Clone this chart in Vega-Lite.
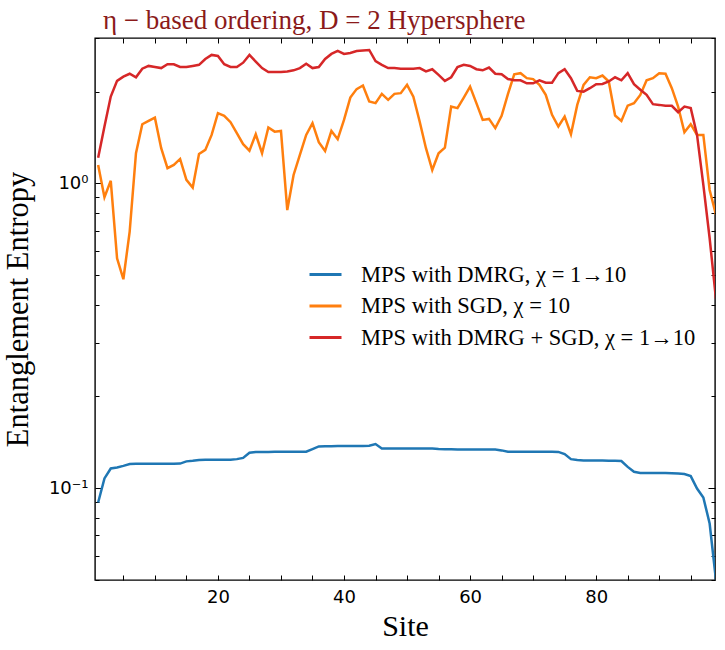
{
  "$schema": "https://vega.github.io/schema/vega-lite/v6.json",
  "description": "Entanglement entropy per site, eta-based ordering, D=2 hypersphere",
  "autosize": {"type": "none"},
  "padding": {"left": 95, "top": 38, "right": 10, "bottom": 70},
  "width": 620,
  "height": 542,
  "title": {
    "text": "η − based ordering,  D = 2 Hypersphere",
    "anchor": "start",
    "frame": "group",
    "dx": 8,
    "offset": 3,
    "font": "Liberation Serif",
    "fontSize": 27,
    "fontWeight": "normal",
    "color": "#8b1a1a"
  },
  "datasets": {
    "entropy": [
      {"site": 1, "method": "DMRG", "entropy": 0.0898},
      {"site": 2, "method": "DMRG", "entropy": 0.1077},
      {"site": 3, "method": "DMRG", "entropy": 0.1161},
      {"site": 4, "method": "DMRG", "entropy": 0.117},
      {"site": 5, "method": "DMRG", "entropy": 0.1184},
      {"site": 6, "method": "DMRG", "entropy": 0.12},
      {"site": 7, "method": "DMRG", "entropy": 0.1203},
      {"site": 8, "method": "DMRG", "entropy": 0.1203},
      {"site": 9, "method": "DMRG", "entropy": 0.1203},
      {"site": 10, "method": "DMRG", "entropy": 0.1203},
      {"site": 11, "method": "DMRG", "entropy": 0.1203},
      {"site": 12, "method": "DMRG", "entropy": 0.1204},
      {"site": 13, "method": "DMRG", "entropy": 0.1204},
      {"site": 14, "method": "DMRG", "entropy": 0.1205},
      {"site": 15, "method": "DMRG", "entropy": 0.1225},
      {"site": 16, "method": "DMRG", "entropy": 0.123},
      {"site": 17, "method": "DMRG", "entropy": 0.1237},
      {"site": 18, "method": "DMRG", "entropy": 0.124},
      {"site": 19, "method": "DMRG", "entropy": 0.124},
      {"site": 20, "method": "DMRG", "entropy": 0.124},
      {"site": 21, "method": "DMRG", "entropy": 0.124},
      {"site": 22, "method": "DMRG", "entropy": 0.1241},
      {"site": 23, "method": "DMRG", "entropy": 0.1246},
      {"site": 24, "method": "DMRG", "entropy": 0.1258},
      {"site": 25, "method": "DMRG", "entropy": 0.1307},
      {"site": 26, "method": "DMRG", "entropy": 0.1314},
      {"site": 27, "method": "DMRG", "entropy": 0.1316},
      {"site": 28, "method": "DMRG", "entropy": 0.1316},
      {"site": 29, "method": "DMRG", "entropy": 0.1317},
      {"site": 30, "method": "DMRG", "entropy": 0.1317},
      {"site": 31, "method": "DMRG", "entropy": 0.1317},
      {"site": 32, "method": "DMRG", "entropy": 0.1317},
      {"site": 33, "method": "DMRG", "entropy": 0.1317},
      {"site": 34, "method": "DMRG", "entropy": 0.1318},
      {"site": 35, "method": "DMRG", "entropy": 0.1344},
      {"site": 36, "method": "DMRG", "entropy": 0.1372},
      {"site": 37, "method": "DMRG", "entropy": 0.1374},
      {"site": 38, "method": "DMRG", "entropy": 0.1374},
      {"site": 39, "method": "DMRG", "entropy": 0.1375},
      {"site": 40, "method": "DMRG", "entropy": 0.1375},
      {"site": 41, "method": "DMRG", "entropy": 0.1376},
      {"site": 42, "method": "DMRG", "entropy": 0.1376},
      {"site": 43, "method": "DMRG", "entropy": 0.1377},
      {"site": 44, "method": "DMRG", "entropy": 0.1378},
      {"site": 45, "method": "DMRG", "entropy": 0.1396},
      {"site": 46, "method": "DMRG", "entropy": 0.1351},
      {"site": 47, "method": "DMRG", "entropy": 0.1351},
      {"site": 48, "method": "DMRG", "entropy": 0.1351},
      {"site": 49, "method": "DMRG", "entropy": 0.1351},
      {"site": 50, "method": "DMRG", "entropy": 0.1351},
      {"site": 51, "method": "DMRG", "entropy": 0.1351},
      {"site": 52, "method": "DMRG", "entropy": 0.1351},
      {"site": 53, "method": "DMRG", "entropy": 0.135},
      {"site": 54, "method": "DMRG", "entropy": 0.135},
      {"site": 55, "method": "DMRG", "entropy": 0.1344},
      {"site": 56, "method": "DMRG", "entropy": 0.1342},
      {"site": 57, "method": "DMRG", "entropy": 0.1342},
      {"site": 58, "method": "DMRG", "entropy": 0.1341},
      {"site": 59, "method": "DMRG", "entropy": 0.1341},
      {"site": 60, "method": "DMRG", "entropy": 0.1341},
      {"site": 61, "method": "DMRG", "entropy": 0.1341},
      {"site": 62, "method": "DMRG", "entropy": 0.134},
      {"site": 63, "method": "DMRG", "entropy": 0.134},
      {"site": 64, "method": "DMRG", "entropy": 0.1339},
      {"site": 65, "method": "DMRG", "entropy": 0.1331},
      {"site": 66, "method": "DMRG", "entropy": 0.1318},
      {"site": 67, "method": "DMRG", "entropy": 0.1317},
      {"site": 68, "method": "DMRG", "entropy": 0.1317},
      {"site": 69, "method": "DMRG", "entropy": 0.1317},
      {"site": 70, "method": "DMRG", "entropy": 0.1317},
      {"site": 71, "method": "DMRG", "entropy": 0.1317},
      {"site": 72, "method": "DMRG", "entropy": 0.1317},
      {"site": 73, "method": "DMRG", "entropy": 0.1317},
      {"site": 74, "method": "DMRG", "entropy": 0.1316},
      {"site": 75, "method": "DMRG", "entropy": 0.1294},
      {"site": 76, "method": "DMRG", "entropy": 0.1246},
      {"site": 77, "method": "DMRG", "entropy": 0.1237},
      {"site": 78, "method": "DMRG", "entropy": 0.1234},
      {"site": 79, "method": "DMRG", "entropy": 0.1233},
      {"site": 80, "method": "DMRG", "entropy": 0.1233},
      {"site": 81, "method": "DMRG", "entropy": 0.1232},
      {"site": 82, "method": "DMRG", "entropy": 0.1231},
      {"site": 83, "method": "DMRG", "entropy": 0.123},
      {"site": 84, "method": "DMRG", "entropy": 0.1228},
      {"site": 85, "method": "DMRG", "entropy": 0.1175},
      {"site": 86, "method": "DMRG", "entropy": 0.1132},
      {"site": 87, "method": "DMRG", "entropy": 0.1123},
      {"site": 88, "method": "DMRG", "entropy": 0.1123},
      {"site": 89, "method": "DMRG", "entropy": 0.1122},
      {"site": 90, "method": "DMRG", "entropy": 0.1122},
      {"site": 91, "method": "DMRG", "entropy": 0.1121},
      {"site": 92, "method": "DMRG", "entropy": 0.112},
      {"site": 93, "method": "DMRG", "entropy": 0.1118},
      {"site": 94, "method": "DMRG", "entropy": 0.1113},
      {"site": 95, "method": "DMRG", "entropy": 0.1096},
      {"site": 96, "method": "DMRG", "entropy": 0.0998},
      {"site": 97, "method": "DMRG", "entropy": 0.0933},
      {"site": 98, "method": "DMRG", "entropy": 0.0766},
      {"site": 99, "method": "DMRG", "entropy": 0.05},
      {"site": 1, "method": "SGD", "entropy": 1.15},
      {"site": 2, "method": "SGD", "entropy": 0.901},
      {"site": 3, "method": "SGD", "entropy": 1.02},
      {"site": 4, "method": "SGD", "entropy": 0.568},
      {"site": 5, "method": "SGD", "entropy": 0.485},
      {"site": 6, "method": "SGD", "entropy": 0.695},
      {"site": 7, "method": "SGD", "entropy": 1.256},
      {"site": 8, "method": "SGD", "entropy": 1.564},
      {"site": 9, "method": "SGD", "entropy": 1.604},
      {"site": 10, "method": "SGD", "entropy": 1.644},
      {"site": 11, "method": "SGD", "entropy": 1.305},
      {"site": 12, "method": "SGD", "entropy": 1.122},
      {"site": 13, "method": "SGD", "entropy": 1.15},
      {"site": 14, "method": "SGD", "entropy": 1.203},
      {"site": 15, "method": "SGD", "entropy": 1.027},
      {"site": 16, "method": "SGD", "entropy": 0.969},
      {"site": 17, "method": "SGD", "entropy": 1.25},
      {"site": 18, "method": "SGD", "entropy": 1.288},
      {"site": 19, "method": "SGD", "entropy": 1.443},
      {"site": 20, "method": "SGD", "entropy": 1.7},
      {"site": 21, "method": "SGD", "entropy": 1.666},
      {"site": 22, "method": "SGD", "entropy": 1.588},
      {"site": 23, "method": "SGD", "entropy": 1.461},
      {"site": 24, "method": "SGD", "entropy": 1.345},
      {"site": 25, "method": "SGD", "entropy": 1.281},
      {"site": 26, "method": "SGD", "entropy": 1.45},
      {"site": 27, "method": "SGD", "entropy": 1.256},
      {"site": 28, "method": "SGD", "entropy": 1.525},
      {"site": 29, "method": "SGD", "entropy": 1.479},
      {"site": 30, "method": "SGD", "entropy": 1.487},
      {"site": 31, "method": "SGD", "entropy": 0.818},
      {"site": 32, "method": "SGD", "entropy": 1.066},
      {"site": 33, "method": "SGD", "entropy": 1.24},
      {"site": 34, "method": "SGD", "entropy": 1.443},
      {"site": 35, "method": "SGD", "entropy": 1.576},
      {"site": 36, "method": "SGD", "entropy": 1.366},
      {"site": 37, "method": "SGD", "entropy": 1.278},
      {"site": 38, "method": "SGD", "entropy": 1.487},
      {"site": 39, "method": "SGD", "entropy": 1.397},
      {"site": 40, "method": "SGD", "entropy": 1.616},
      {"site": 41, "method": "SGD", "entropy": 1.913},
      {"site": 42, "method": "SGD", "entropy": 2.039},
      {"site": 43, "method": "SGD", "entropy": 2.095},
      {"site": 44, "method": "SGD", "entropy": 1.856},
      {"site": 45, "method": "SGD", "entropy": 1.834},
      {"site": 46, "method": "SGD", "entropy": 1.967},
      {"site": 47, "method": "SGD", "entropy": 1.88},
      {"site": 48, "method": "SGD", "entropy": 1.967},
      {"site": 49, "method": "SGD", "entropy": 1.978},
      {"site": 50, "method": "SGD", "entropy": 2.106},
      {"site": 51, "method": "SGD", "entropy": 1.927},
      {"site": 52, "method": "SGD", "entropy": 1.596},
      {"site": 53, "method": "SGD", "entropy": 1.305},
      {"site": 54, "method": "SGD", "entropy": 1.107},
      {"site": 55, "method": "SGD", "entropy": 1.256},
      {"site": 56, "method": "SGD", "entropy": 1.311},
      {"site": 57, "method": "SGD", "entropy": 1.787},
      {"site": 58, "method": "SGD", "entropy": 1.766},
      {"site": 59, "method": "SGD", "entropy": 1.913},
      {"site": 60, "method": "SGD", "entropy": 2.078},
      {"site": 61, "method": "SGD", "entropy": 1.834},
      {"site": 62, "method": "SGD", "entropy": 1.616},
      {"site": 63, "method": "SGD", "entropy": 1.628},
      {"site": 64, "method": "SGD", "entropy": 1.518},
      {"site": 65, "method": "SGD", "entropy": 1.666},
      {"site": 66, "method": "SGD", "entropy": 1.963},
      {"site": 67, "method": "SGD", "entropy": 2.28},
      {"site": 68, "method": "SGD", "entropy": 2.3},
      {"site": 69, "method": "SGD", "entropy": 2.215},
      {"site": 70, "method": "SGD", "entropy": 2.2},
      {"site": 71, "method": "SGD", "entropy": 2.106},
      {"site": 72, "method": "SGD", "entropy": 1.952},
      {"site": 73, "method": "SGD", "entropy": 1.679},
      {"site": 74, "method": "SGD", "entropy": 1.537},
      {"site": 75, "method": "SGD", "entropy": 1.657},
      {"site": 76, "method": "SGD", "entropy": 1.45},
      {"site": 77, "method": "SGD", "entropy": 1.81},
      {"site": 78, "method": "SGD", "entropy": 2.106},
      {"site": 79, "method": "SGD", "entropy": 2.23},
      {"site": 80, "method": "SGD", "entropy": 2.215},
      {"site": 81, "method": "SGD", "entropy": 2.26},
      {"site": 82, "method": "SGD", "entropy": 2.16},
      {"site": 83, "method": "SGD", "entropy": 1.67},
      {"site": 84, "method": "SGD", "entropy": 1.604},
      {"site": 85, "method": "SGD", "entropy": 1.8},
      {"site": 86, "method": "SGD", "entropy": 1.834},
      {"site": 87, "method": "SGD", "entropy": 1.952},
      {"site": 88, "method": "SGD", "entropy": 2.18},
      {"site": 89, "method": "SGD", "entropy": 2.215},
      {"site": 90, "method": "SGD", "entropy": 2.3},
      {"site": 91, "method": "SGD", "entropy": 2.29},
      {"site": 92, "method": "SGD", "entropy": 2.053},
      {"site": 93, "method": "SGD", "entropy": 1.787},
      {"site": 94, "method": "SGD", "entropy": 1.472},
      {"site": 95, "method": "SGD", "entropy": 1.564},
      {"site": 96, "method": "SGD", "entropy": 1.443},
      {"site": 97, "method": "SGD", "entropy": 1.443},
      {"site": 98, "method": "SGD", "entropy": 0.952},
      {"site": 99, "method": "SGD", "entropy": 0.79},
      {"site": 1, "method": "DMRG+SGD", "entropy": 1.215},
      {"site": 2, "method": "DMRG+SGD", "entropy": 1.537},
      {"site": 3, "method": "DMRG+SGD", "entropy": 1.927},
      {"site": 4, "method": "DMRG+SGD", "entropy": 2.17},
      {"site": 5, "method": "DMRG+SGD", "entropy": 2.24},
      {"site": 6, "method": "DMRG+SGD", "entropy": 2.29},
      {"site": 7, "method": "DMRG+SGD", "entropy": 2.23},
      {"site": 8, "method": "DMRG+SGD", "entropy": 2.38},
      {"site": 9, "method": "DMRG+SGD", "entropy": 2.43},
      {"site": 10, "method": "DMRG+SGD", "entropy": 2.41},
      {"site": 11, "method": "DMRG+SGD", "entropy": 2.39},
      {"site": 12, "method": "DMRG+SGD", "entropy": 2.46},
      {"site": 13, "method": "DMRG+SGD", "entropy": 2.46},
      {"site": 14, "method": "DMRG+SGD", "entropy": 2.41},
      {"site": 15, "method": "DMRG+SGD", "entropy": 2.41},
      {"site": 16, "method": "DMRG+SGD", "entropy": 2.43},
      {"site": 17, "method": "DMRG+SGD", "entropy": 2.45},
      {"site": 18, "method": "DMRG+SGD", "entropy": 2.56},
      {"site": 19, "method": "DMRG+SGD", "entropy": 2.64},
      {"site": 20, "method": "DMRG+SGD", "entropy": 2.62},
      {"site": 21, "method": "DMRG+SGD", "entropy": 2.46},
      {"site": 22, "method": "DMRG+SGD", "entropy": 2.41},
      {"site": 23, "method": "DMRG+SGD", "entropy": 2.41},
      {"site": 24, "method": "DMRG+SGD", "entropy": 2.49},
      {"site": 25, "method": "DMRG+SGD", "entropy": 2.64},
      {"site": 26, "method": "DMRG+SGD", "entropy": 2.51},
      {"site": 27, "method": "DMRG+SGD", "entropy": 2.39},
      {"site": 28, "method": "DMRG+SGD", "entropy": 2.32},
      {"site": 29, "method": "DMRG+SGD", "entropy": 2.32},
      {"site": 30, "method": "DMRG+SGD", "entropy": 2.32},
      {"site": 31, "method": "DMRG+SGD", "entropy": 2.33},
      {"site": 32, "method": "DMRG+SGD", "entropy": 2.35},
      {"site": 33, "method": "DMRG+SGD", "entropy": 2.39},
      {"site": 34, "method": "DMRG+SGD", "entropy": 2.47},
      {"site": 35, "method": "DMRG+SGD", "entropy": 2.39},
      {"site": 36, "method": "DMRG+SGD", "entropy": 2.41},
      {"site": 37, "method": "DMRG+SGD", "entropy": 2.56},
      {"site": 38, "method": "DMRG+SGD", "entropy": 2.66},
      {"site": 39, "method": "DMRG+SGD", "entropy": 2.72},
      {"site": 40, "method": "DMRG+SGD", "entropy": 2.66},
      {"site": 41, "method": "DMRG+SGD", "entropy": 2.68},
      {"site": 42, "method": "DMRG+SGD", "entropy": 2.72},
      {"site": 43, "method": "DMRG+SGD", "entropy": 2.73},
      {"site": 44, "method": "DMRG+SGD", "entropy": 2.74},
      {"site": 45, "method": "DMRG+SGD", "entropy": 2.52},
      {"site": 46, "method": "DMRG+SGD", "entropy": 2.45},
      {"site": 47, "method": "DMRG+SGD", "entropy": 2.39},
      {"site": 48, "method": "DMRG+SGD", "entropy": 2.39},
      {"site": 49, "method": "DMRG+SGD", "entropy": 2.38},
      {"site": 50, "method": "DMRG+SGD", "entropy": 2.38},
      {"site": 51, "method": "DMRG+SGD", "entropy": 2.38},
      {"site": 52, "method": "DMRG+SGD", "entropy": 2.39},
      {"site": 53, "method": "DMRG+SGD", "entropy": 2.33},
      {"site": 54, "method": "DMRG+SGD", "entropy": 2.37},
      {"site": 55, "method": "DMRG+SGD", "entropy": 2.27},
      {"site": 56, "method": "DMRG+SGD", "entropy": 2.17},
      {"site": 57, "method": "DMRG+SGD", "entropy": 2.23},
      {"site": 58, "method": "DMRG+SGD", "entropy": 2.41},
      {"site": 59, "method": "DMRG+SGD", "entropy": 2.45},
      {"site": 60, "method": "DMRG+SGD", "entropy": 2.43},
      {"site": 61, "method": "DMRG+SGD", "entropy": 2.37},
      {"site": 62, "method": "DMRG+SGD", "entropy": 2.35},
      {"site": 63, "method": "DMRG+SGD", "entropy": 2.4},
      {"site": 64, "method": "DMRG+SGD", "entropy": 2.29},
      {"site": 65, "method": "DMRG+SGD", "entropy": 2.28},
      {"site": 66, "method": "DMRG+SGD", "entropy": 2.2},
      {"site": 67, "method": "DMRG+SGD", "entropy": 2.18},
      {"site": 68, "method": "DMRG+SGD", "entropy": 2.18},
      {"site": 69, "method": "DMRG+SGD", "entropy": 2.13},
      {"site": 70, "method": "DMRG+SGD", "entropy": 2.13},
      {"site": 71, "method": "DMRG+SGD", "entropy": 2.18},
      {"site": 72, "method": "DMRG+SGD", "entropy": 2.14},
      {"site": 73, "method": "DMRG+SGD", "entropy": 2.14},
      {"site": 74, "method": "DMRG+SGD", "entropy": 2.3},
      {"site": 75, "method": "DMRG+SGD", "entropy": 2.37},
      {"site": 76, "method": "DMRG+SGD", "entropy": 2.215},
      {"site": 77, "method": "DMRG+SGD", "entropy": 2.012},
      {"site": 78, "method": "DMRG+SGD", "entropy": 2.0},
      {"site": 79, "method": "DMRG+SGD", "entropy": 2.053},
      {"site": 80, "method": "DMRG+SGD", "entropy": 2.117},
      {"site": 81, "method": "DMRG+SGD", "entropy": 2.12},
      {"site": 82, "method": "DMRG+SGD", "entropy": 2.16},
      {"site": 83, "method": "DMRG+SGD", "entropy": 2.23},
      {"site": 84, "method": "DMRG+SGD", "entropy": 2.18},
      {"site": 85, "method": "DMRG+SGD", "entropy": 2.3},
      {"site": 86, "method": "DMRG+SGD", "entropy": 2.117},
      {"site": 87, "method": "DMRG+SGD", "entropy": 2.03},
      {"site": 88, "method": "DMRG+SGD", "entropy": 1.952},
      {"site": 89, "method": "DMRG+SGD", "entropy": 1.82},
      {"site": 90, "method": "DMRG+SGD", "entropy": 1.81},
      {"site": 91, "method": "DMRG+SGD", "entropy": 1.797},
      {"site": 92, "method": "DMRG+SGD", "entropy": 1.797},
      {"site": 93, "method": "DMRG+SGD", "entropy": 1.713},
      {"site": 94, "method": "DMRG+SGD", "entropy": 1.787},
      {"site": 95, "method": "DMRG+SGD", "entropy": 1.766},
      {"site": 96, "method": "DMRG+SGD", "entropy": 1.443},
      {"site": 97, "method": "DMRG+SGD", "entropy": 0.989},
      {"site": 98, "method": "DMRG+SGD", "entropy": 0.661},
      {"site": 99, "method": "DMRG+SGD", "entropy": 0.418}
    ]
  },
  "data": {"name": "entropy"},
  "layer": [
    {
      "mark": {"type": "line", "strokeWidth": 2.5, "clip": true},
      "encoding": {
        "x": {
          "field": "site",
          "type": "quantitative",
          "scale": {"domain": [0.5, 98.85], "nice": false, "zero": false},
          "axis": {
            "orient": "bottom",
            "title": "Site",
            "values": [5, 10, 15, 20, 25, 30, 35, 40, 45, 50, 55, 60, 65, 70, 75, 80, 85, 90, 95],
            "labelExpr": "datum.value % 20 === 0 ? datum.label : ''",
            "tickSize": -5,
            "labelPadding": 13,
            "titlePadding": 5,
            "titleFontSize": 30
          }
        },
        "y": {
          "field": "entropy",
          "type": "quantitative",
          "scale": {"type": "log", "domain": [0.05, 3.0], "nice": false},
          "axis": {
            "orient": "left",
            "title": "Entanglement Entropy",
            "values": [0.05, 0.06, 0.07, 0.08, 0.09, 0.1, 0.2, 0.3, 0.4, 0.5, 0.6, 0.7, 0.8, 0.9, 1, 2, 3],
            "labelExpr": "datum.value === 1 ? '10⁰' : (datum.value === 0.1 ? '10⁻¹' : '')",
            "tickSize": {"condition": {"test": "datum.value === 1 || datum.value === 0.1", "value": -7}, "value": -4},
            "labelPadding": 14,
            "titlePadding": 15,
            "titleFontSize": 30.5
          }
        },
        "color": {
          "field": "method",
          "type": "nominal",
          "sort": ["DMRG", "SGD", "DMRG+SGD"],
          "scale": {"domain": ["DMRG", "SGD", "DMRG+SGD"], "range": ["#1f77b4", "#ff7f0e", "#d62728"]},
          "legend": {
            "orient": "none",
            "legendX": 213,
            "legendY": 219,
            "title": null,
            "symbolType": "stroke",
            "symbolSize": 1024,
            "symbolStrokeWidth": 3,
            "rowPadding": 2.5,
            "labelOffset": 18,
            "padding": 0,
            "labelFont": "Liberation Serif",
            "labelFontSize": 22.5,
            "labelColor": "#000",
            "labelLimit": 500,
            "labelExpr": "datum.label === 'DMRG' ? 'MPS with DMRG,  χ = 1→10' : (datum.label === 'SGD' ? 'MPS with SGD,  χ = 10' : 'MPS with DMRG + SGD,  χ = 1→10')"
          }
        }
      }
    },
    {
      "mark": {"type": "point", "opacity": 0},
      "encoding": {
        "x": {
          "field": "site",
          "type": "quantitative",
          "axis": {
            "orient": "top",
            "title": null,
            "labels": false,
            "values": [5, 10, 15, 20, 25, 30, 35, 40, 45, 50, 55, 60, 65, 70, 75, 80, 85, 90, 95],
            "tickSize": -5
          }
        },
        "y": {
          "field": "entropy",
          "type": "quantitative",
          "axis": {
            "orient": "right",
            "title": null,
            "labels": false,
            "values": [0.05, 0.06, 0.07, 0.08, 0.09, 0.1, 0.2, 0.3, 0.4, 0.5, 0.6, 0.7, 0.8, 0.9, 1, 2, 3],
            "tickSize": {"condition": {"test": "datum.value === 1 || datum.value === 0.1", "value": -7}, "value": -4}
          }
        }
      }
    }
  ],
  "resolve": {"axis": {"x": "independent", "y": "independent"}},
  "config": {
    "view": {"stroke": "#000", "strokeWidth": 1.4},
    "axis": {
      "domain": false,
      "grid": false,
      "ticks": true,
      "tickColor": "#000",
      "tickWidth": 1,
      "labelFont": "DejaVu Sans",
      "labelFontSize": 18,
      "labelColor": "#000",
      "titleFont": "Liberation Serif",
      "titleFontSize": 30,
      "titleFontWeight": "normal",
      "titleColor": "#000"
    }
  }
}
